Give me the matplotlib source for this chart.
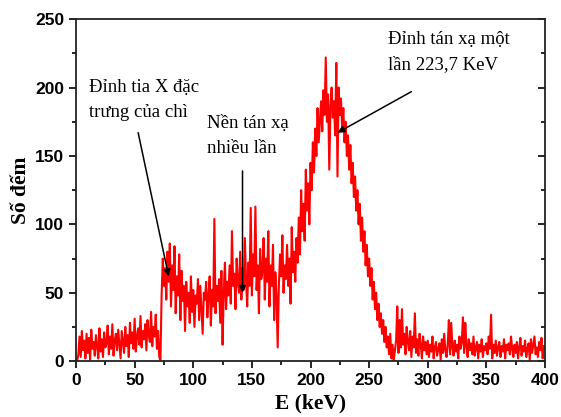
import matplotlib
matplotlib.use("Agg")
import matplotlib.pyplot as plt
import numpy as np

# energy channels, 1 keV apart
energy = list(range(0, 400))

# counts, 10 keV per row
counts = [
    2, 0, 5, 18, 3, 22, 8, 15, 2, 20,
    6, 17, 1, 23, 9, 14, 4, 19, 11, 2,
    24, 7, 16, 3, 21, 10, 13, 26, 5, 18,
    9, 27, 4, 15, 20, 8, 23, 12, 2, 22,
    14, 6, 25, 11, 19, 3, 28, 13, 21, 9,
    31, 7, 18, 24, 12, 33, 10, 22, 16, 27,
    8, 30, 19, 14, 36, 11, 25, 18, 34, 9,
    22, 3, 1, 48, 75, 55, 68, 45, 80, 58,
    86, 40, 70, 52, 84, 35, 62, 48, 78, 30,
    66, 44, 55, 22, 58, 40, 50, 28, 62, 36,
    52, 25, 48, 42, 60, 30, 55, 38, 20, 50,
    45, 58, 32, 48, 62, 26, 52, 40, 104, 35,
    55, 44, 60, 28, 66, 12, 50, 72, 38, 58,
    48, 70, 42, 95, 55, 64, 38, 75, 58, 50,
    80, 45, 68, 52, 90, 60, 40, 72, 55, 112,
    48, 78, 62, 113, 52, 70, 35, 82, 60, 66,
    90, 45, 75, 58, 95, 40, 70, 55, 85, 30,
    65, 48, 10, 55, 78, 62, 92, 50, 70, 60,
    85, 55, 75, 42, 98, 65, 80, 58, 90, 72,
    105, 78, 125, 95, 115, 88, 140, 110, 130, 100,
    145, 125, 160, 138, 170, 150, 185, 160, 175, 190,
    168, 198, 180, 222, 175, 195, 140, 185, 200, 178,
    190, 165, 218, 135, 200, 180, 192, 170, 185, 160,
    175, 150, 165, 140, 158, 130, 145, 120, 135, 110,
    125, 100, 115, 88, 105, 80, 95, 70, 85, 62,
    75, 55, 68, 45, 58, 38, 50, 30, 42, 25,
    35, 20, 30, 14, 25, 10, 18, 5, 20, 2,
    12, 0, 8, 15, 40, 6, 30, 10, 38, 12,
    20, 5, 25, 14, 8, 22, 3, 18, 10, 35,
    6, 16, 4, 20, 12, 2, 18, 8, 14, 5,
    15, 3, 12, 7, 18, 2, 10, 14, 4, 9,
    13, 1, 16, 6, 20, 8, 3, 12, 30, 5,
    28, 10, 4, 15, 7, 12, 2, 18, 9, 14,
    32, 6, 28, 11, 3, 16, 8, 13, 5, 18,
    4, 10, 14, 2, 12, 7, 16, 3, 11, 8,
    13, 5, 18, 9, 34, 2, 12, 6, 15, 4,
    10, 14, 3, 11, 7, 16, 2, 12, 8, 13,
    5, 18, 9, 3, 12, 6, 14, 2, 10, 17,
    4, 11, 7, 15, 3, 9, 13, 1, 16, 6,
    12, 18, 5, 10, 3, 14, 8, 17, 2, 11,
]

labels = ["Đỉnh tia X đặc\ntrưng của chì",
          "Nền tán xạ\nnhiều lần",
          "Đỉnh tán xạ một\nlần 223,7 KeV"]
label_xy = [(11, 206), (112, 180), (266, 241)]
arrow_from = [(53, 167), (142, 139), (286, 197)]
arrow_to = [(79, 62), (142, 50), (223, 167)]

fig = plt.figure(figsize=(5.61, 4.17), dpi=100)
ax = fig.add_axes([0.1355, 0.134, 0.836, 0.82])

ax.plot(energy, counts, color="#ff0000", lw=1.5)

ax.set_xlim(0, 400)
ax.set_ylim(0, 250)
ax.set_xticks(np.arange(0, 401, 50))
ax.set_yticks(np.arange(0, 251, 50))
ax.set_xticks(np.arange(25, 400, 50), minor=True)
ax.set_yticks(np.arange(25, 250, 50), minor=True)

ax.tick_params(which="both", direction="out", right=True, top=False,
               width=1.2, labelsize=12.5)
ax.tick_params(which="major", length=5)
ax.tick_params(which="minor", length=3)
# Origin style: mirrored ticks point inwards on the right side
for t in ax.yaxis.get_major_ticks() + ax.yaxis.get_minor_ticks():
    t.tick2line.set_marker(matplotlib.lines.TICKLEFT)
for lab in ax.get_xticklabels() + ax.get_yticklabels():
    lab.set_fontfamily("Liberation Sans")
    lab.set_fontweight("bold")

for s in ax.spines.values():
    s.set_linewidth(1.3)
    s.set_color("#222222")

ax.set_xlabel("E (keV)", fontfamily="Liberation Serif", fontweight="bold",
              fontsize=15.5, labelpad=4)
ax.set_ylabel("Số đếm", fontfamily="Liberation Serif", fontweight="bold",
              fontsize=15.5, labelpad=3)

for txt, xy, a, b in zip(labels, label_xy, arrow_from, arrow_to):
    ax.text(xy[0], xy[1], txt, fontfamily="Liberation Serif", fontsize=13.5,
            va="top", ha="left", linespacing=1.6)
    ax.annotate("", xy=b, xytext=a,
                arrowprops=dict(arrowstyle="-|>", color="black", lw=1.1,
                                mutation_scale=10, shrinkA=0, shrinkB=0))

fig.savefig("out.png", dpi=100)
